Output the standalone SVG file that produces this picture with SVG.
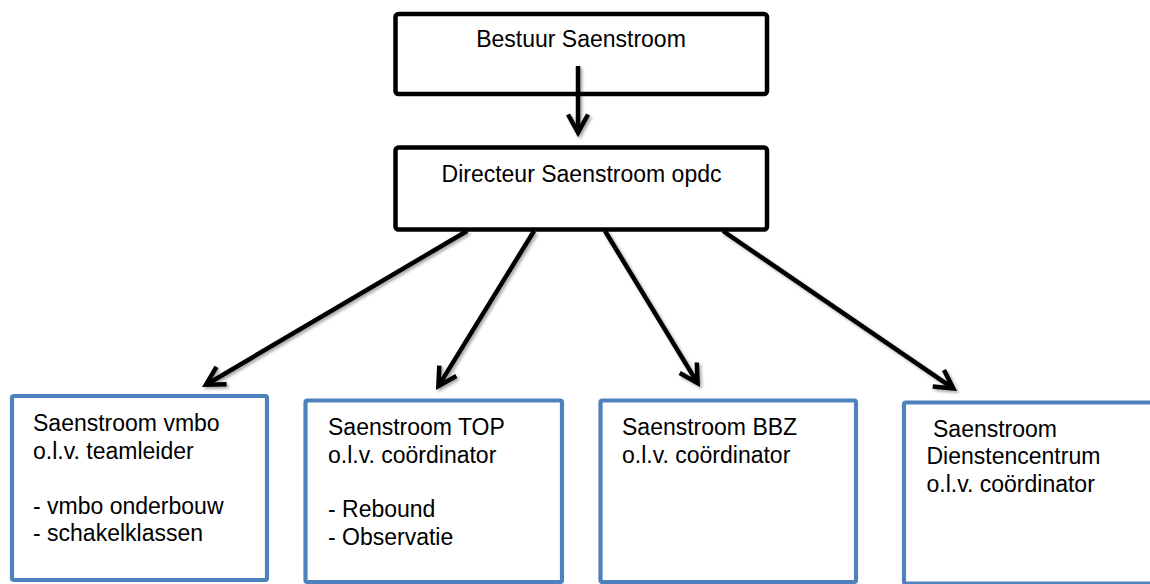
<svg xmlns="http://www.w3.org/2000/svg" width="1150" height="584" viewBox="0 0 1150 584">
  <style>
    .txt { font-family: "Liberation Sans", Arial, Helvetica, sans-serif; font-size: 23px; fill: #000; }
    .top { fill: #fff; stroke: #000; stroke-width: 4.5; }
    .sub { fill: #fff; stroke: #4F81BD; stroke-width: 4.2; }
    .conn { fill: none; stroke: #000; stroke-width: 4.5; stroke-linecap: butt; marker-end: url(#arrow); }
  </style>
  <defs>
    <marker id="arrow" markerUnits="userSpaceOnUse" viewBox="-30 -15 40 30" refX="0" refY="0" markerWidth="40" markerHeight="30" orient="auto" overflow="visible">
      <path d="M -18 -10 L 0 0 L -18 10" fill="none" stroke="#000" stroke-width="4.5" stroke-linejoin="miter"/>
    </marker>
    <filter id="shadow" x="-10%" y="-10%" width="130%" height="130%">
      <feDropShadow dx="2" dy="2" stdDeviation="1.8" flood-color="#000" flood-opacity="0.35"/>
    </filter>
  </defs>
  <rect width="1150" height="584" fill="#fff"/>

  <g id="bestuur">
    <rect class="top" x="395.5" y="14" width="371.5" height="80" rx="3"/>
    <text class="txt" x="581" y="47" text-anchor="middle">Bestuur Saenstroom</text>
  </g>
  <g id="directeur">
    <rect class="top" x="395.5" y="147.5" width="371.5" height="82" rx="3"/>
    <text class="txt" x="581.5" y="182" text-anchor="middle">Directeur Saenstroom opdc</text>
  </g>

  <g id="connectors" filter="url(#shadow)">
    <line class="conn" x1="578" y1="66" x2="578" y2="132.5"/>
    <line class="conn" x1="467" y1="231" x2="206" y2="384.7"/>
    <line class="conn" x1="534" y1="231" x2="438.4" y2="386.1"/>
    <line class="conn" x1="605" y1="231" x2="697.6" y2="383.1"/>
    <line class="conn" x1="723" y1="231" x2="953.2" y2="388.4"/>
  </g>

  <g id="vmbo">
    <rect class="sub" x="12" y="396" width="255" height="184" rx="2"/>
    <text class="txt" x="33" y="431">Saenstroom vmbo</text>
    <text class="txt" x="33" y="458.5">o.l.v. teamleider</text>
    <text class="txt" x="33" y="513.5">- vmbo onderbouw</text>
    <text class="txt" x="33" y="541">- schakelklassen</text>
  </g>
  <g id="top-node">
    <rect class="sub" x="305.5" y="400.5" width="256.5" height="181.5" rx="2"/>
    <text class="txt" x="328" y="435">Saenstroom TOP</text>
    <text class="txt" x="328" y="462.5">o.l.v. coördinator</text>
    <text class="txt" x="328" y="517">- Rebound</text>
    <text class="txt" x="328" y="545">- Observatie</text>
  </g>
  <g id="bbz">
    <rect class="sub" x="600.5" y="400.5" width="255.5" height="181.5" rx="2"/>
    <text class="txt" x="622" y="435">Saenstroom BBZ</text>
    <text class="txt" x="622" y="462.5">o.l.v. coördinator</text>
  </g>
  <g id="dienstencentrum">
    <rect class="sub" x="904" y="402.5" width="260" height="181" rx="2"/>
    <text class="txt" x="933" y="436.5">Saenstroom</text>
    <text class="txt" x="926.5" y="464">Dienstencentrum</text>
    <text class="txt" x="926.5" y="491.5">o.l.v. coördinator</text>
  </g>
</svg>
